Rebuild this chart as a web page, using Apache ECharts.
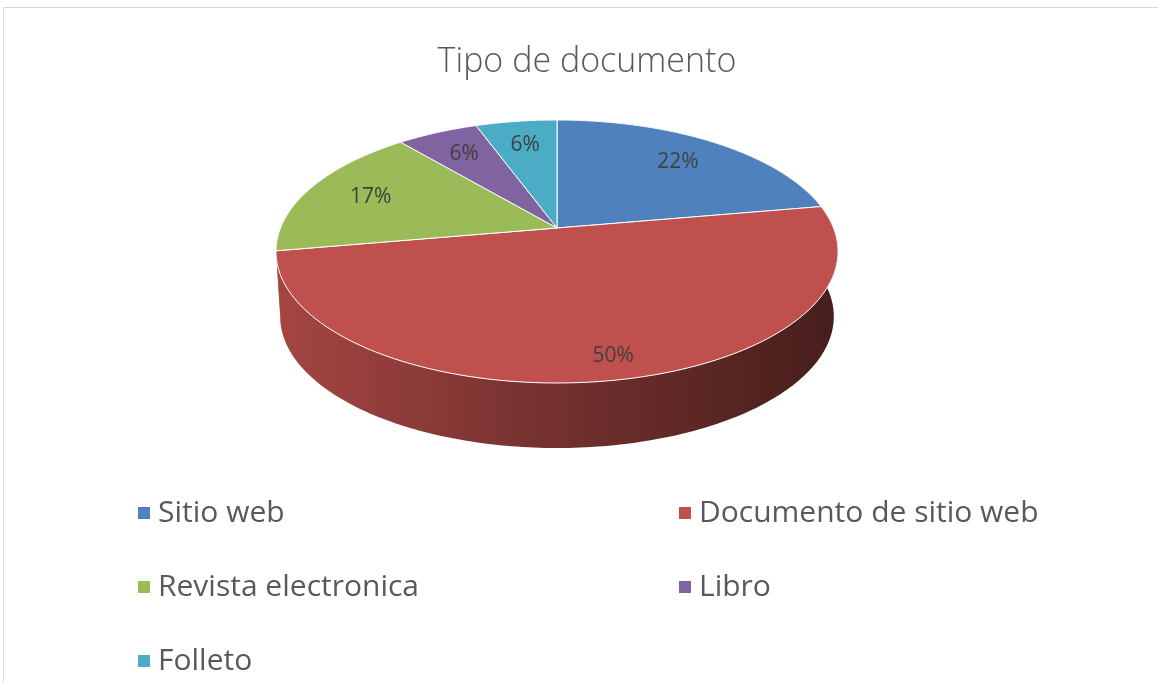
<!DOCTYPE html>
<html>
<head>
<meta charset="utf-8">
<script src="https://cdn.jsdelivr.net/npm/echarts@6/dist/echarts.min.js"></script>
<style>
  html, body { margin: 0; padding: 0; background: #fff; }
  #chart { position: absolute; left: 0; top: 0; width: 1158px; height: 683px; }
  #frame { position: absolute; left: 3px; top: 7px; width: 1160px; height: 690px;
           border-left: 1px solid #d9d9d9; border-top: 1px solid #d9d9d9; pointer-events: none; }
</style>
</head>
<body>
<div id="chart"></div>
<div id="frame"></div>
<script>
// data
const categories = ['Sitio web', 'Documento de sitio web', 'Revista electronica', 'Libro', 'Folleto'];
const counts = [4, 9, 3, 1, 1];
const colors = ['#4F81BD', '#C0504D', '#9BBB59', '#8064A2', '#4BACC6'];

// layout of the tilted pie
const cx = 557, cy = 228;     // pie centre on the top face
const rx = 276.5, ry = 127.3; // radii before perspective
const persp = 0.1787;         // far side looks smaller
const depth = 65;             // thickness of the pie
const bottomScale = 0.985;    // lower rim a bit narrower
const labelR = 0.75;

const total = counts.reduce((a, b) => a + b, 0);
const starts = [];
let acc = 0;
counts.forEach(c => { starts.push(acc / total * Math.PI * 2); acc += c; });

function proj(theta, f, dy) {
  const u = Math.sin(theta), v = Math.cos(theta);
  const d = 1 / (1 + persp * f * v);
  const p = [cx + rx * f * u * d, cy - ry * f * v * d];
  if (dy) { p[0] = cx + (p[0] - cx) * bottomScale; p[1] += dy; }
  return p;
}

function shade(hex, k) {
  const n = parseInt(hex.slice(1), 16);
  const r = Math.round(((n >> 16) & 255) * k);
  const g = Math.round(((n >> 8) & 255) * k);
  const b = Math.round((n & 255) * k);
  return 'rgb(' + r + ',' + g + ',' + b + ')';
}

function arc(a0, a1, dy) {
  const pts = [];
  const steps = Math.max(2, Math.ceil((a1 - a0) / (Math.PI / 180)));
  for (let s = 0; s <= steps; s++) pts.push(proj(a0 + (a1 - a0) * s / steps, 1, dy));
  return pts;
}

function renderSlice(i) {
  return function (params, api) {
    const a0 = starts[i];
    const a1 = a0 + api.value(0) / total * Math.PI * 2;
    const mid = (a0 + a1) / 2;
    const topArc = arc(a0, a1, 0);
    const lowArc = arc(a0, a1, depth).reverse();
    const col = colors[i];
    const lp = proj(mid, labelR, 0);
    // labels of front slices sit a little lower, like in Excel
    lp[1] += Math.max(0, -Math.cos(mid)) * depth * 0.3;
    lp[0] += Math.max(0, -Math.cos(mid)) * 15;
    return {
      type: 'group',
      children: [
        {
          type: 'polygon',
          z2: Math.round((1 - Math.cos(mid)) * 2),
          shape: { points: topArc.concat(lowArc) },
          style: {
            fill: {
              type: 'linear', global: true, x: cx - rx, y: 0, x2: cx + rx, y2: 0,
              colorStops: [
                { offset: 0, color: shade(col, 0.86) },
                { offset: 0.45, color: shade(col, 0.62) },
                { offset: 1, color: shade(col, 0.37) }
              ]
            }
          }
        },
        {
          type: 'polygon',
          z2: 10,
          shape: { points: [[cx, cy]].concat(topArc) },
          style: { fill: col, stroke: '#ffffff', lineWidth: 1 }
        },
        {
          type: 'text',
          z2: 20,
          x: lp[0], y: lp[1],
          style: {
            text: Math.round(api.value(0) / total * 100) + '%',
            fill: '#404040',
            font: '21px "Open Sans"',
            align: 'center',
            verticalAlign: 'middle'
          }
        }
      ]
    };
  };
}

const legendText = { fontFamily: 'Open Sans', fontSize: 30, color: '#595959', lineHeight: 32, padding: [0, 0, 0, 3] };

const chart = echarts.init(document.getElementById('chart'));
chart.setOption({
  animation: false,
  color: colors,
  title: {
    text: 'Tipo de documento',
    left: 582,
    textAlign: 'center',
    top: 40,
    textStyle: { fontFamily: 'Open Sans', fontWeight: 300, fontSize: 34, color: '#595959' }
  },
  legend: [
    {
      data: [categories[0], categories[2], categories[4]],
      orient: 'vertical',
      left: 133,
      top: 492,
      icon: 'rect',
      itemWidth: 12,
      itemHeight: 12,
      itemGap: 42,
      textStyle: legendText
    },
    {
      data: [categories[1], categories[3]],
      orient: 'vertical',
      left: 674,
      top: 492,
      icon: 'rect',
      itemWidth: 12,
      itemHeight: 12,
      itemGap: 42,
      textStyle: legendText
    }
  ],
  series: categories.map((name, i) => ({
    type: 'custom',
    name: name,
    coordinateSystem: 'none',
    itemStyle: { color: colors[i] },
    data: [[counts[i]]],
    renderItem: renderSlice(i)
  }))
});
</script>
</body>
</html>
